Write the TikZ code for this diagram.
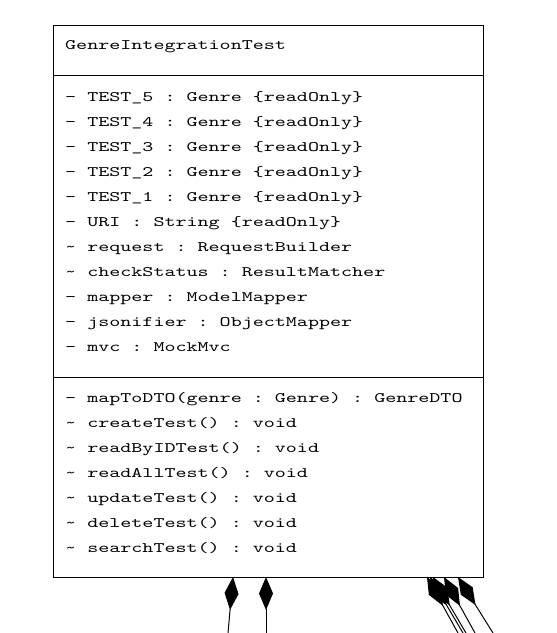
\documentclass[tikz,border=0pt]{standalone}
\usepackage{fontspec}
\setmonofont{lmmono10-regular.otf}[FakeStretch=1.45]
\usetikzlibrary{arrows.meta}
\tikzset{
  txt/.style={anchor=base west, inner sep=0pt, font=\ttfamily\fontsize{14.5}{14.5}\selectfont},
  umlbox/.style={draw, line width=1pt, inner sep=0pt, anchor=north west},
  sepline/.style={line width=1pt},
  comp/.style={line width=1pt, -{Diamond[length=33pt,width=14pt,fill=black]}}
}
\begin{document}
\begin{tikzpicture}[x=1pt,y=1pt]
\useasboundingbox (0,0) rectangle (557,-633);
\node[umlbox, minimum width=430pt, minimum height=552pt] (cls) at (53,-25) {};
\coordinate (sa1) at (53,-75); \coordinate (sa2) at (483,-75);
\coordinate (sb1) at (53,-377); \coordinate (sb2) at (483,-377);
\draw[sepline] (sa1) -- (sa2);
\draw[sepline] (sb1) -- (sb2);
\node[txt] (title) at (65,-49) {GenreIntegrationTest};
\node[txt] (a1) at (65,-101) {- TEST\_5 : Genre \{readOnly\}};
\node[txt] (a2) at (65,-126) {- TEST\_4 : Genre \{readOnly\}};
\node[txt] (a3) at (65,-151) {- TEST\_3 : Genre \{readOnly\}};
\node[txt] (a4) at (65,-176) {- TEST\_2 : Genre \{readOnly\}};
\node[txt] (a5) at (65,-201) {- TEST\_1 : Genre \{readOnly\}};
\node[txt] (a6) at (65,-226) {- URI : String \{readOnly\}};
\node[txt] (a7) at (65,-251) {\textasciitilde{} request : RequestBuilder};
\node[txt] (a8) at (65,-276) {\textasciitilde{} checkStatus : ResultMatcher};
\node[txt] (a9) at (65,-301) {- mapper : ModelMapper};
\node[txt] (a10) at (65,-326) {- jsonifier : ObjectMapper};
\node[txt] (a11) at (65,-351) {- mvc : MockMvc};
\node[txt] (m1) at (65,-402) {- mapToDTO(genre : Genre) : GenreDTO};
\node[txt] (m2) at (65,-427) {\textasciitilde{} createTest() : void};
\node[txt] (m3) at (65,-452) {\textasciitilde{} readByIDTest() : void};
\node[txt] (m4) at (65,-477) {\textasciitilde{} readAllTest() : void};
\node[txt] (m5) at (65,-502) {\textasciitilde{} updateTest() : void};
\node[txt] (m6) at (65,-527) {\textasciitilde{} deleteTest() : void};
\node[txt] (m7) at (65,-552) {\textasciitilde{} searchTest() : void};
% connectors
\coordinate (s1) at (233,-577); \coordinate (e1) at (228,-633);
\coordinate (s2) at (266,-577); \coordinate (e2) at (266,-633);
\coordinate (s3) at (427,-577); \coordinate (e3) at (458,-633);
\coordinate (s4) at (430,-577); \coordinate (e4) at (463,-633);
\coordinate (s5) at (433,-577); \coordinate (e5) at (466,-633);
\coordinate (s6) at (444,-577); \coordinate (e6) at (475,-633);
\coordinate (s7) at (458,-577); \coordinate (e7) at (493,-633);
\foreach \i in {1,...,7} { \draw[comp] (e\i) -- (s\i); }
\end{tikzpicture}
\end{document}
